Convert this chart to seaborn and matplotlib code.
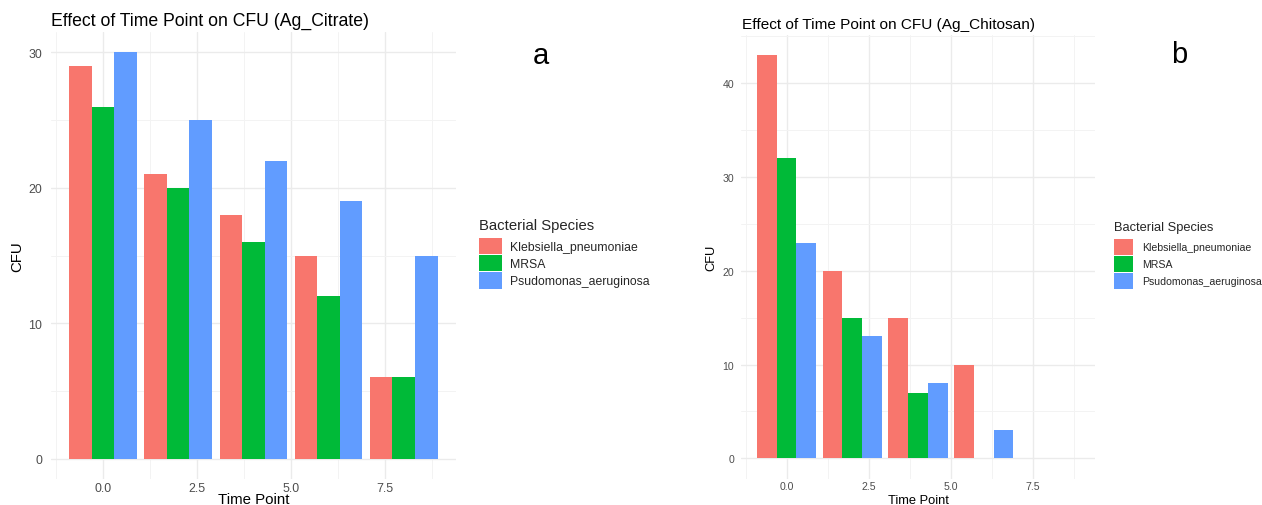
import numpy as np
import pandas as pd
import matplotlib
matplotlib.use("Agg")
import matplotlib.pyplot as plt
import seaborn as sns
from matplotlib.patches import Patch

# ---- data -------------------------------------------------------------
time_points = [0, 2, 4, 6, 8]
species = ["Klebsiella_pneumoniae", "MRSA", "Psudomonas_aeruginosa"]
palette = ["#F8766D", "#00BA38", "#619CFF"]

citrate_kleb = [29, 21, 18, 15, 6]
citrate_mrsa = [26, 20, 16, 12, 6]
citrate_pseudo = [30, 25, 22, 19, 15]

chitosan_kleb = [43, 20, 15, 10, 0]
chitosan_mrsa = [32, 15, 7, 0, 0]
chitosan_pseudo = [23, 13, 8, 3, 0]

x_ticks = [0, 2.5, 5, 7.5]
x_tick_labels = ["0.0", "2.5", "5.0", "7.5"]
citrate_y_ticks = [0, 10, 20, 30]
chitosan_y_ticks = [0, 10, 20, 30, 40]

titles = ["Effect of Time Point on CFU (Ag_Citrate)",
          "Effect of Time Point on CFU (Ag_Chitosan)"]
panel_tags = ["a", "b"]


def long_frame(series):
    rows = []
    for sp, vals in zip(species, series):
        for t, v in zip(time_points, vals):
            rows.append({"Time Point": t, "CFU": v, "Species": sp})
    return pd.DataFrame(rows)


citrate_df = long_frame([citrate_kleb, citrate_mrsa, citrate_pseudo])
chitosan_df = long_frame([chitosan_kleb, chitosan_mrsa, chitosan_pseudo])

# ---- style ------------------------------------------------------------
sns.set_theme(style="white")
plt.rcParams["font.family"] = ["Liberation Sans", "DejaVu Sans"]

W, H = 1262, 506
fig = plt.figure(figsize=(W / 100, H / 100), dpi=100)
fig.patch.set_facecolor("white")


def px_axes(left, top, right, bottom):
    return fig.add_axes([left / W, 1 - bottom / H, (right - left) / W, (bottom - top) / H])


grid_major = "#EBEBEB"
grid_minor = "#F3F3F3"
tick_color = "#4D4D4D"


def draw_panel(df, y_ticks, box, tick_size, label_size, ylabel_x, ypad):
    left, top, right, bottom = box
    ax = px_axes(*box)
    sns.barplot(data=df, x="Time Point", y="CFU", hue="Species",
                hue_order=species, palette=palette, native_scale=True,
                errorbar=None, width=0.9, linewidth=0, saturation=1,
                legend=False, ax=ax)
    ymax = df["CFU"].max()
    xmin, xmax = min(time_points) - 0.9, max(time_points) + 0.9
    xpad = (xmax - xmin) * 0.05
    ax.set_xlim(xmin - xpad, xmax + xpad)
    ax.set_ylim(-ymax * 0.05, ymax * 1.05)

    ax.set_xticks(x_ticks)
    ax.set_xticklabels(x_tick_labels)
    ax.set_xticks(np.arange(x_ticks[0] - 1.25, xmax + xpad, 2.5), minor=True)
    ax.set_yticks(y_ticks)
    ax.set_yticklabels([str(v) for v in y_ticks])
    ax.set_yticks(np.arange(5, ymax * 1.05, 10), minor=True)

    ax.set_axisbelow(True)
    ax.grid(which="major", color=grid_major, linewidth=1.0)
    ax.grid(which="minor", color=grid_minor, linewidth=0.7)
    ax.tick_params(which="both", length=0)
    ax.tick_params(axis="x", labelsize=tick_size, labelcolor=tick_color, pad=2)
    ax.tick_params(axis="y", labelsize=tick_size, labelcolor=tick_color, pad=ypad)
    for s in ax.spines.values():
        s.set_visible(False)
    w_px, h_px = right - left, bottom - top
    ax.set_xlabel("Time Point", fontsize=label_size, color="black", va="baseline")
    ax.xaxis.set_label_coords(0.5, -(504 - bottom) / h_px)
    ax.set_ylabel("CFU", fontsize=label_size, color="black", va="center")
    ax.yaxis.set_label_coords((ylabel_x - left) / w_px, 0.5)
    ax.set_facecolor("white")
    return ax


box1 = (50.7, 33, 456, 480)
box2 = (741, 35.8, 1095, 479.5)
ax1 = draw_panel(citrate_df, citrate_y_ticks, box1, 8.9, 10.8, 17, 6)
ax2 = draw_panel(chitosan_df, chitosan_y_ticks, box2, 7.6, 9.3, 711.7, 5)

# titles, aligned with panel left edge
fig.text(50.7 / W, 1 - 26 / H, titles[0], fontsize=12.7, ha="left", va="baseline", color="black")
fig.text(741.7 / W, 1 - 29 / H, titles[1], fontsize=11.1, ha="left", va="baseline", color="black")

# panel tags
fig.text(541 / W, 1 - 56 / H, panel_tags[0], fontsize=21, ha="center", va="center", color="black")
fig.text(1179 / W, 1 - 55 / H, panel_tags[1], fontsize=21, ha="center", va="center", color="black")

# legends
handles = [Patch(facecolor=c, edgecolor="none") for c in palette]


def place_legend(x_px, y_px, size, title_size, key_w, key_h, text_gap):
    f = size * 100 / 72
    hlen = key_w / f
    hh = (key_h / f - 0.245) / 0.65
    leg = fig.legend(handles, species, title="Bacterial Species",
                     loc="upper left", bbox_to_anchor=(x_px / W, 1 - y_px / H),
                     frameon=False, fontsize=size, title_fontsize=title_size,
                     handlelength=hlen, handleheight=hh, handletextpad=text_gap / f,
                     labelspacing=0.05, borderpad=0, borderaxespad=0)
    leg._legend_box.align = "left"
    leg._legend_box.sep = 4
    return leg


place_legend(479.3, 219, 8.8, 10.7, 22.4, 16.6, 8.3)
place_legend(1114.3, 222, 7.6, 9.3, 19, 16.6, 8.4)

fig.savefig("out.png", dpi=100, facecolor="white")
